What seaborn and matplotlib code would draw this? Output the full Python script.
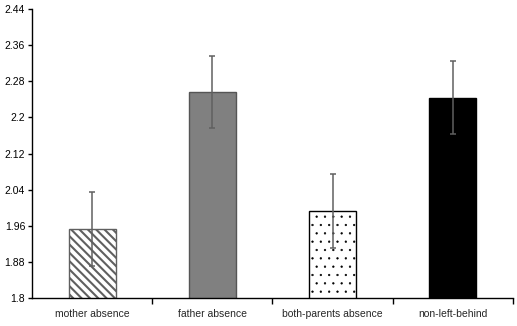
import numpy as np
import pandas as pd
import matplotlib
matplotlib.use("Agg")
import matplotlib.pyplot as plt
from matplotlib.ticker import FixedLocator, NullFormatter
import seaborn as sns

# data
groups = ["mother absence", "father absence", "both-parents absence", "non-left-behind"]
means = [1.952, 2.256, 1.992, 2.244]
errors = [0.082, 0.080, 0.082, 0.080]
yticks = [1.8, 1.88, 1.96, 2.04, 2.12, 2.2, 2.28, 2.36, 2.44]
ytick_labels = ["1.8", "1.88", "1.96", "2.04", "2.12", "2.2", "2.28", "2.36", "2.44"]

df = pd.DataFrame({"group": groups, "mean": means, "err": errors})

sns.set_style("white")
plt.rcParams["font.family"] = ["Liberation Sans Narrow", "Liberation Sans", "DejaVu Sans"]
plt.rcParams["hatch.linewidth"] = 1.5

fig = plt.figure(figsize=(5.17, 3.26), dpi=100)
ax = fig.add_axes([0.062, 0.086, 0.93, 0.886])

sns.barplot(data=df, x="group", y="mean", ax=ax, width=0.39,
            errorbar=None, color="white", saturation=1)

faces = ["white", "#808080", "white", "black"]
edges = ["#606060", "#555555", "black", "black"]
hatches = ["\\\\\\\\", None, "..", None]
hatch_lw = [1.5, 1.0, 0.4, 1.0]
for patch, fc, ec, h, hl in zip(ax.patches, faces, edges, hatches, hatch_lw):
    patch.set_facecolor(fc)
    patch.set_edgecolor(ec)
    patch.set_linewidth(1.0)
    if h:
        patch.set_hatch(h)
        try:
            patch.set_hatch_linewidth(hl)
        except AttributeError:
            pass

# error bars
ax.errorbar(np.arange(len(groups)), df["mean"], yerr=df["err"], fmt="none",
            ecolor="#606060", elinewidth=1.1, capsize=2.2, capthick=1.1)

ax.set_xlim(-0.5, 3.5)
ax.set_ylim(1.8, 2.44)
ax.set_yticks(yticks)
ax.set_yticklabels(ytick_labels)
ax.set_xlabel("")
ax.set_ylabel("")

for s in ["top", "right"]:
    ax.spines[s].set_visible(False)
for s in ["left", "bottom"]:
    ax.spines[s].set_color("black")
    ax.spines[s].set_linewidth(1.0)

ax.tick_params(axis="y", which="major", direction="out", length=3, width=1,
               labelsize=7.5, colors="black", pad=2, left=True)
ax.tick_params(axis="x", which="major", length=0, labelsize=7.5, pad=8)
ax.xaxis.set_minor_locator(FixedLocator([0.5, 1.5, 2.5, 3.5]))
ax.xaxis.set_minor_formatter(NullFormatter())
ax.tick_params(axis="x", which="minor", direction="out", length=4, width=1,
               bottom=True, color="black")

fig.savefig("out.png", dpi=100)
